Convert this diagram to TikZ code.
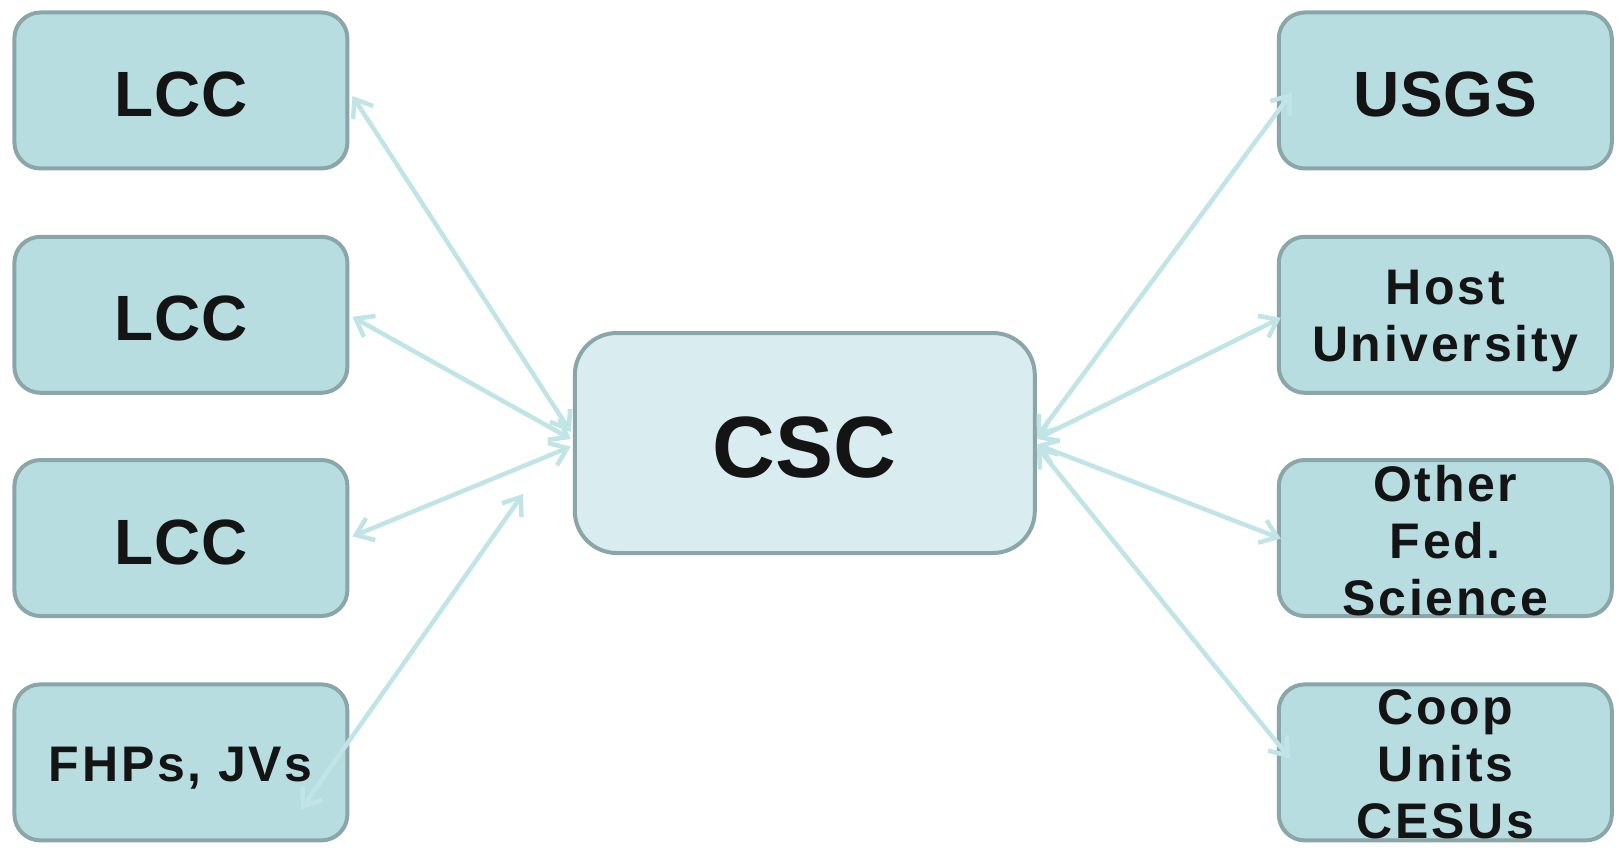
\documentclass[tikz,border=0pt]{standalone}
\usepackage{fontspec}
\setmainfont{Liberation Sans}
\usetikzlibrary{arrows.meta}
\definecolor{bordc}{RGB}{139,166,169}
\definecolor{boxfill}{RGB}{184,221,225}
\definecolor{cscfill}{RGB}{217,237,240}
\definecolor{arrowc}{RGB}{193,228,231}
\definecolor{txtc}{RGB}{20,20,20}
\begin{document}
\begin{tikzpicture}[x=1pt,y=-1pt,
  box/.style={draw=bordc, line width=4pt, fill=boxfill, rounded corners=26pt,
    minimum width=333pt, minimum height=156pt, inner sep=0pt, align=center,
    text=txtc, font=\bfseries\fontsize{50}{57}\selectfont\addfontfeatures{LetterSpace=5.5}},
  big/.style={font=\bfseries\fontsize{64}{70}\selectfont\addfontfeatures{LetterSpace=1.5},
    text height=52pt, text depth=0pt},
  cscbox/.style={draw=bordc, line width=4pt, fill=cscfill, rounded corners=42pt,
    minimum width=460pt, minimum height=220pt, inner sep=0pt,
    text=txtc, font=\bfseries\fontsize{87}{90}\selectfont,
    text height=69pt, text depth=0pt},
  link/.style={draw=arrowc, line width=4.5pt, line cap=round,
    {Straight Barb[length=16pt,width=24pt]}-{Straight Barb[length=16pt,width=24pt]}}
]
\useasboundingbox (0,0) rectangle (1621,850);
\fill[white] (0,0) rectangle (1621,850);

\node[box,big] (lcc1) at (180.9,90.5) {LCC};
\node[box,big] (lcc2) at (180.9,314.8) {LCC};
\node[box,big] (lcc3) at (180.9,538) {LCC};
\node[box,text height=39pt,text depth=0pt] (fhp) at (180.9,762.4) {FHPs, JVs};

\node[box,big] (usgs) at (1445.3,90.5) {USGS};
\node[box,text height=94pt,text depth=0pt] (host) at (1445.3,314.8) {Host\\University};
\node[box,text height=155pt,text depth=0pt] (other) at (1445.3,538) {Other\\Fed.\\Science};
\node[box,text height=153pt,text depth=0pt] (coop) at (1445.3,762.4) {Coop\\Units\\CESUs};

\node[cscbox] (csc) at (804.8,443) {CSC};

\coordinate (fhpfree) at (523,494);

\draw[link] ([xshift=3pt,yshift=-5.5pt]lcc1.east) -- ([xshift=-2pt,yshift=11pt]csc.west);
\draw[link] ([xshift=3pt,yshift=-2pt]lcc2.east) -- ([xshift=-2pt,yshift=4pt]csc.west);
\draw[link] ([xshift=3pt,yshift=1.5pt]lcc3.east) -- ([xshift=-2pt,yshift=-3.6pt]csc.west);
\draw[link] ([xshift=120pt,yshift=-47pt]fhp.center) -- (fhpfree);

\draw[link] ([xshift=15pt,yshift=-2pt]usgs.west) -- ([xshift=0pt,yshift=6pt]csc.east);
\draw[link] ([xshift=4pt,yshift=-3pt]host.west) -- ([xshift=0pt,yshift=4pt]csc.east);
\draw[link] ([xshift=4pt,yshift=-0.6pt]other.west) -- ([xshift=0pt,yshift=-1.5pt]csc.east);
\draw[link] ([xshift=13pt,yshift=4pt]coop.west) -- ([xshift=0pt,yshift=-3.6pt]csc.east);
\end{tikzpicture}
\end{document}
